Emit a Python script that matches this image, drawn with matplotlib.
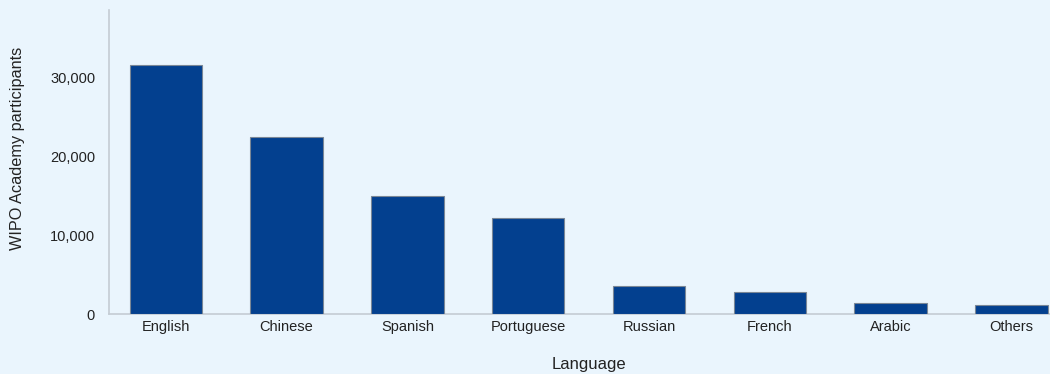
import matplotlib
matplotlib.use("Agg")
import matplotlib.pyplot as plt
from matplotlib.ticker import FuncFormatter

languages = ["English", "Chinese", "Spanish", "Portuguese", "Russian", "French", "Arabic", "Others"]
participants = [31650, 22500, 15000, 12200, 3550, 2800, 1450, 1150]
yticks = [0, 10000, 20000, 30000]

plt.rcParams['font.family'] = ['Liberation Sans', 'DejaVu Sans']
bg = "#EAF5FD"
fig = plt.figure(figsize=(10.5, 3.74), dpi=100, facecolor=bg)
W, H = 1050, 374
ax = fig.add_axes([109 / W, (H - 314) / H, (1050 - 109) / W, (314 - 10) / H])
ax.set_facecolor(bg)

x = list(range(len(languages)))
ax.bar(x, participants, width=0.6, color="#03408F", edgecolor="#7A8796", linewidth=0.8, zorder=3)

ax.set_xlim(-0.47, 7.32)
ax.set_ylim(0, 38600)
ax.set_xticks(x)
ax.set_xticklabels(languages)
ax.set_yticks(yticks)
ax.yaxis.set_major_formatter(FuncFormatter(lambda v, p: f"{int(v):,}"))
ax.tick_params(axis='both', length=0, labelsize=10.5, colors="#222222")
ax.tick_params(axis='y', pad=10)
ax.tick_params(axis='x', pad=4)

for s in ["top", "right"]:
    ax.spines[s].set_visible(False)
for s in ["left", "bottom"]:
    ax.spines[s].set_color("#C4CCD4")
    ax.spines[s].set_linewidth(1.2)

ax.set_xlabel("Language", fontsize=12, color="#222222")
ax.xaxis.set_label_coords((589 - 109) / 941, (314 - 365) / 304)
ax.xaxis.label.set_va("center")
ax.set_ylabel("WIPO Academy participants", fontsize=11.7, color="#222222")
ax.yaxis.set_label_coords((18 - 109) / 941, (314 - 148) / 304)
ax.yaxis.label.set_va("center")

fig.savefig("out.png", dpi=100, facecolor=bg)
